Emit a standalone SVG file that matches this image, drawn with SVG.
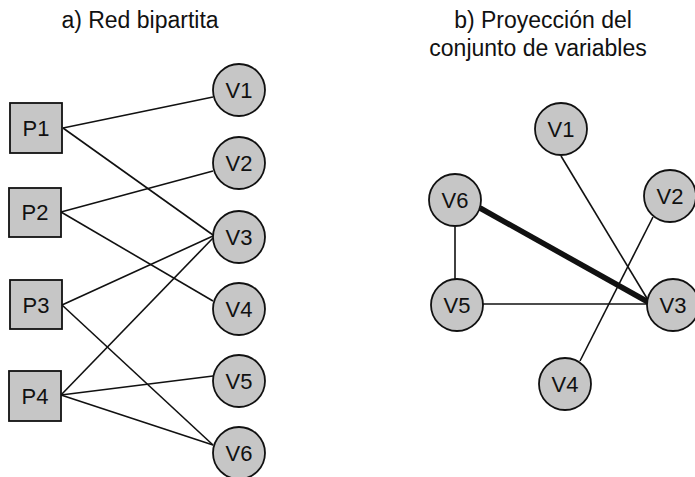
<svg xmlns="http://www.w3.org/2000/svg" width="695" height="477" viewBox="0 0 695 477">
<style>
.t{font-family:"Liberation Sans",Arial,sans-serif;font-size:22px;fill:#111;text-anchor:middle}
.h{font-size:23px}
.n circle,.n rect{fill:#c6c6c6;stroke:#111;stroke-width:1.8}
.e line{stroke:#111;stroke-width:1.6}
</style>
<rect width="695" height="477" fill="#fff"/>
<text class="t h" x="140" y="28">a) Red bipartita</text>
<text class="t h" x="543" y="28">b) Proyección del</text>
<text class="t h" x="538" y="56">conjunto de variables</text>
<g class="e" id="connectors">
<line x1="63" y1="128" x2="213" y2="97"/>
<line x1="63" y1="128" x2="213" y2="235"/>
<line x1="61" y1="212" x2="213" y2="171"/>
<line x1="61" y1="212" x2="213" y2="301"/>
<line x1="62" y1="305" x2="213" y2="236"/>
<line x1="62" y1="305" x2="213" y2="445"/>
<line x1="61" y1="395" x2="213" y2="238"/>
<line x1="61" y1="395" x2="213" y2="376"/>
<line x1="61" y1="395" x2="213" y2="445"/>
<line x1="561" y1="156" x2="648" y2="300"/>
<line x1="653" y1="217" x2="580" y2="361"/>
<line x1="480" y1="208" x2="648" y2="302" style="stroke-width:5.5"/>
<line x1="455" y1="227" x2="455" y2="279"/>
<line x1="483" y1="304" x2="647" y2="304"/>
</g>
<g class="n" id="P1"><rect x="10" y="103" width="52" height="50"/><text class="t" x="36" y="136">P1</text></g>
<g class="n" id="P2"><rect x="9" y="188" width="52" height="49"/><text class="t" x="35" y="220">P2</text></g>
<g class="n" id="P3"><rect x="10" y="280" width="52" height="49"/><text class="t" x="36" y="313">P3</text></g>
<g class="n" id="P4"><rect x="9" y="371" width="52" height="50"/><text class="t" x="35" y="404">P4</text></g>
<g class="n" id="aV1"><circle cx="239" cy="90" r="26"/><text class="t" x="239" y="98">V1</text></g>
<g class="n" id="aV2"><circle cx="239" cy="163" r="26"/><text class="t" x="239" y="171">V2</text></g>
<g class="n" id="aV3"><circle cx="239" cy="237" r="26"/><text class="t" x="239" y="245">V3</text></g>
<g class="n" id="aV4"><circle cx="239" cy="309" r="26"/><text class="t" x="239" y="317">V4</text></g>
<g class="n" id="aV5"><circle cx="239" cy="381" r="26"/><text class="t" x="239" y="389">V5</text></g>
<g class="n" id="aV6"><circle cx="239" cy="453" r="26"/><text class="t" x="239" y="461">V6</text></g>
<g class="n" id="bV1"><circle cx="561" cy="129" r="26"/><text class="t" x="561" y="137">V1</text></g>
<g class="n" id="bV2"><circle cx="670" cy="196" r="26"/><text class="t" x="670" y="204">V2</text></g>
<g class="n" id="bV6"><circle cx="455" cy="200" r="26"/><text class="t" x="455" y="208">V6</text></g>
<g class="n" id="bV5"><circle cx="457" cy="305" r="26"/><text class="t" x="457" y="313">V5</text></g>
<g class="n" id="bV3"><circle cx="673" cy="305" r="26"/><text class="t" x="673" y="313">V3</text></g>
<g class="n" id="bV4"><circle cx="565" cy="384" r="26"/><text class="t" x="565" y="392">V4</text></g>
</svg>
